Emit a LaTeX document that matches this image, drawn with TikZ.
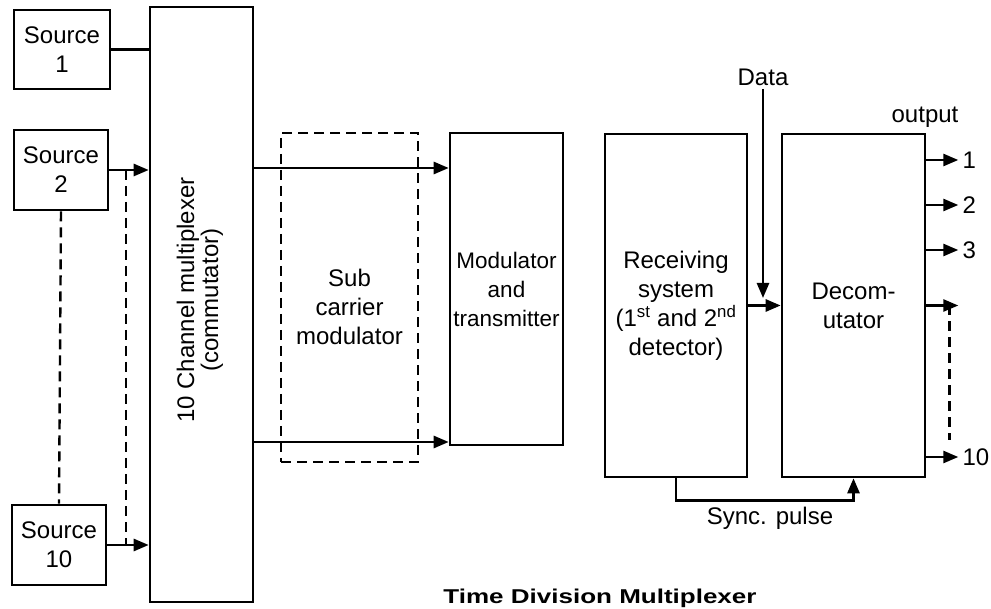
\documentclass[tikz,border=0pt]{standalone}
\usepackage{fontspec}
\setmainfont{Liberation Sans}
\usetikzlibrary{arrows.meta}

\tikzset{
  blk/.style={draw, line width=2.6pt, inner sep=0pt, align=center, font=\fontsize{24}{29}\selectfont},
  lbl/.style={align=center, font=\fontsize{24}{29}\selectfont},
  ln/.style={line width=2.6pt},
  arr/.style={line width=2.6pt, -{Triangle[length=15pt,width=12pt]}},
  dsh/.style={line width=2.4pt, dash pattern=on 10pt off 6pt},
}

\begin{document}
\begin{tikzpicture}[x=1pt,y=-1pt]
\useasboundingbox (0,0) rectangle (991,609);

% sources and commutator
\node[blk, minimum width=96pt, minimum height=79pt] (src1) at (62,49.5) {Source\\1};
\node[blk, minimum width=94pt, minimum height=80pt] (src2) at (61,170) {Source\\2};
\node[blk, minimum width=94pt, minimum height=80pt] (src10) at (59,545) {Source\\10};
\node[blk, minimum width=103pt, minimum height=595pt] (mux) at (201.5,304.5) {};
\node[lbl, rotate=90, font=\fontsize{24}{24}\selectfont] (muxlbl) at (200,300) {10 Channel multiplexer\\(commutator)};

\draw [ln] (src1.east) -- (src1.east -| mux.west);
\draw [arr] (src2.east) -- (src2.east -| mux.west);
\draw [arr] (src10.east) -- (src10.east -| mux.west);
\draw [dsh] (src2.south) -- (src10.north);
\coordinate (j2) at (126,170);
\coordinate (j10) at (126,545);
\draw [dsh] (j2) -- (j10);

% transmitter side
\node[blk, dsh, minimum width=137pt, minimum height=329pt] (sub) at (349.5,297.5) {};
\node[lbl] (sublbl) at (349.5,307) {Sub\\carrier\\modulator};
\node[blk, font=\fontsize{22.5}{29}\selectfont, minimum width=113pt, minimum height=312pt] (mod) at (506.5,289) {Modulator\\and\\transmitter};

\coordinate (mo1) at ([yshift=136.5pt]mux.east);
\coordinate (mo2) at ([yshift=-137.5pt]mux.east);
\draw [arr] (mo1) -- (mo1 -| mod.west);
\draw [arr] (mo2) -- (mo2 -| mod.west);

% receiver side
\node[blk, minimum width=142pt, minimum height=343pt] (rx) at (676,305.5) {Receiving\\system\\(1\textsuperscript{st} and 2\textsuperscript{nd}\\detector)};
\node[blk, minimum width=143pt, minimum height=343pt] (dec) at (853.5,305.5) {Decom-\\utator};

\node[lbl] (data) at (763,77) {Data};
\coordinate (dtip) at (763,298);
\draw [arr] (data.south) -- (dtip);
\draw [arr] (rx.east) -- (dec.west);

\node[lbl] (outlbl) at (925,117) {output};
\foreach \dy/\t/\n in {145.5/1/a, 100.5/2/b, 55.5/3/c, 0/{}/d, -151.5/10/e} {
  \coordinate (o\n) at ([yshift=\dy pt]dec.east);
  \draw [arr] (o\n) -- ++(32,0) node[lbl, right, inner sep=3pt] (out\n) {\t};
}
\draw [dsh] ([xshift=23pt]od) -- ([xshift=23pt, yshift=17pt]oe);

\draw [arr] (rx.south) -- ++(0,22) -| (dec.south);
\node[lbl] (sync) at (770,518) {Sync. pulse};

\node[font=\bfseries\fontsize{20}{22}\selectfont] (title) at (600,598) {\scalebox{1.3}[1]{Time Division Multiplexer}};
\end{tikzpicture}
\end{document}
